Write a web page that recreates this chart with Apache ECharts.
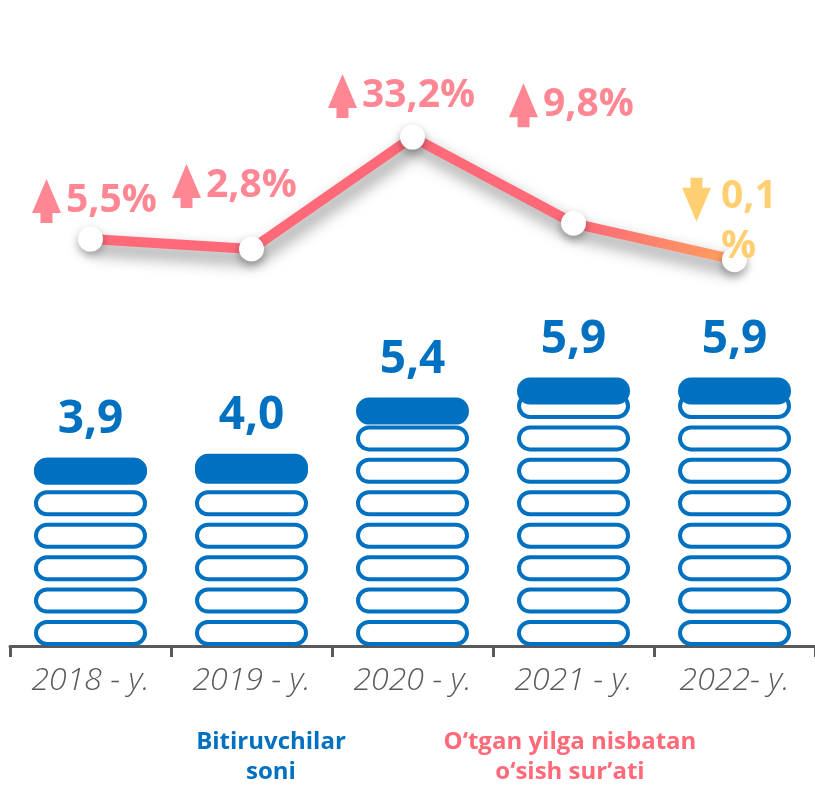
<!DOCTYPE html>
<html>
<head>
<meta charset="utf-8">
<script src="https://cdn.jsdelivr.net/npm/echarts@6/dist/echarts.min.js"></script>
<style>
  html, body { margin: 0; padding: 0; background: #fff; }
  #chart { width: 815px; height: 785px; }
</style>
</head>
<body>
<div id="chart"></div>
<script>
const years = ['2018 - y.', '2019 - y.', '2020 - y.', '2021 - y.', '2022- y.'];
const graduates = [3.9, 4.0, 5.4, 5.9, 5.9];   // Bitiruvchilar soni
const growth = [5.5, 2.8, 33.2, 9.8, -0.1];    // o'sish sur'ati, %

const blue = '#0070C0';
const pink = '#FF6978';
const yellow = '#FFC34F';
const grey = '#595959';

// hollow pill (outer clockwise, inner counter-clockwise -> hole)
const ring = 'path://M13,0 L100,0 A13,13 0 0 1 100,26 L13,26 A13,13 0 0 1 13,0 Z ' +
             'M13,4 A9,9 0 0 0 13,22 L100,22 A9,9 0 0 0 100,4 Z';
const pill = 'path://M13,0 L100,0 A13,13 0 0 1 100,26 L13,26 A13,13 0 0 1 13,0 Z';
const arrowUp = 'path://M14.5,0 L29,34 L20.5,34 L20.5,44 L8.5,44 L8.5,34 L0,34 Z';
const arrowDown = 'path://M8.5,0 L20.5,0 L20.5,10 L29,10 L14.5,44 L0,10 L8.5,10 Z';

// where each arrow + percent label sits relative to its point
const arrowShift = [[-44, -38], [-65, -63], [-70, -41], [-50, -118], [-38, -60]];

const fmt = v => Math.abs(v).toFixed(1).replace('.', ',');

const chart = echarts.init(document.getElementById('chart'));

const option = {
  animation: false,
  grid: { left: 10, right: 0, top: 101, bottom: 139, outerBoundsMode: 'none' },
  xAxis: {
    type: 'category',
    data: years,
    axisLine: { lineStyle: { color: grey, width: 3 } },
    axisTick: { show: true, length: 11, lineStyle: { color: grey, width: 3 } },
    axisLabel: {
      color: grey,
      fontFamily: 'Open Sans',
      fontStyle: 'italic',
      fontWeight: 300,
      fontSize: 32,
      margin: 19
    }
  },
  yAxis: [
    { type: 'value', min: 0, max: 13.6, show: false, splitLine: { show: false } },
    { type: 'value', min: -105, max: 43, show: false, splitLine: { show: false } }
  ],
  series: [
    {
      name: 'Bitiruvchilar soni',
      type: 'pictorialBar',
      symbol: ring,
      symbolSize: [113, 26],
      symbolRepeat: true,
      symbolMargin: 4.2,
      symbolPosition: 'start',
      itemStyle: { color: blue },
      data: graduates,
      z: 2
    },
    {
      name: 'cap',
      type: 'pictorialBar',
      symbol: pill,
      symbolSize: [113, 27],
      symbolPosition: 'end',
      symbolOffset: [0, -32],
      itemStyle: { color: blue },
      label: {
        show: true,
        position: 'top',
        distance: 15,
        color: blue,
        fontFamily: 'Open Sans',
        fontWeight: 'bold',
        fontSize: 46,
        formatter: p => fmt(p.value)
      },
      data: graduates,
      z: 3
    },
    {
      name: "O'tgan yilga nisbatan o'sish sur'ati",
      type: 'line',
      yAxisIndex: 1,
      data: growth,
      symbol: 'circle',
      symbolSize: 25,
      lineStyle: {
        width: 10,
        color: {
          type: 'linear', x: 0, y: 0, x2: 1, y2: 0,
          colorStops: [
            { offset: 0, color: pink },
            { offset: 0.76, color: pink },
            { offset: 1, color: '#FFA35C' }
          ]
        },
        shadowColor: 'rgba(0,0,0,0.45)',
        shadowBlur: 16,
        shadowOffsetX: 3,
        shadowOffsetY: 9
      },
      itemStyle: {
        color: '#fff',
        borderWidth: 0,
        shadowColor: 'rgba(0,0,0,0.35)',
        shadowBlur: 10,
        shadowOffsetY: 4
      },
      z: 4
    },
    {
      name: 'arrows',
      type: 'scatter',
      yAxisIndex: 1,
      symbolSize: [29, 44],
      silent: true,
      label: {
        show: true,
        position: 'right',
        distance: 5,
        fontFamily: 'Open Sans',
        fontWeight: 'bold',
        fontSize: 39,
        formatter: p => fmt(Array.isArray(p.value) ? p.value[1] : p.value) + '%'
      },
      data: growth.map((g, i) => {
        const c = g < 0 ? yellow : pink;
        const item = {
          value: g,
          symbol: g < 0 ? arrowDown : arrowUp,
          symbolOffset: arrowShift[i],
          itemStyle: { color: c },
          label: { color: c }
        };
        if (i === growth.length - 1) {
          item.label = { color: c, width: 62, overflow: 'breakAll', lineHeight: 50, offset: [5, 22] };
        }
        return item;
      }),
      z: 6
    }
  ],
  graphic: [
    {
      type: 'text',
      x: 271,
      y: 727,
      style: {
        text: 'Bitiruvchilar\nsoni',
        fill: blue,
        fontFamily: 'Open Sans',
        fontWeight: 'bold',
        fontSize: 24,
        lineHeight: 30,
        align: 'center',
        verticalAlign: 'top'
      }
    },
    {
      type: 'text',
      x: 570,
      y: 727,
      style: {
        text: 'O‘tgan yilga nisbatan\no‘sish sur’ati',
        fill: pink,
        fontFamily: 'Open Sans',
        fontWeight: 'bold',
        fontSize: 24,
        lineHeight: 30,
        align: 'center',
        verticalAlign: 'top'
      }
    }
  ]
};

chart.setOption(option);
</script>
</body>
</html>
